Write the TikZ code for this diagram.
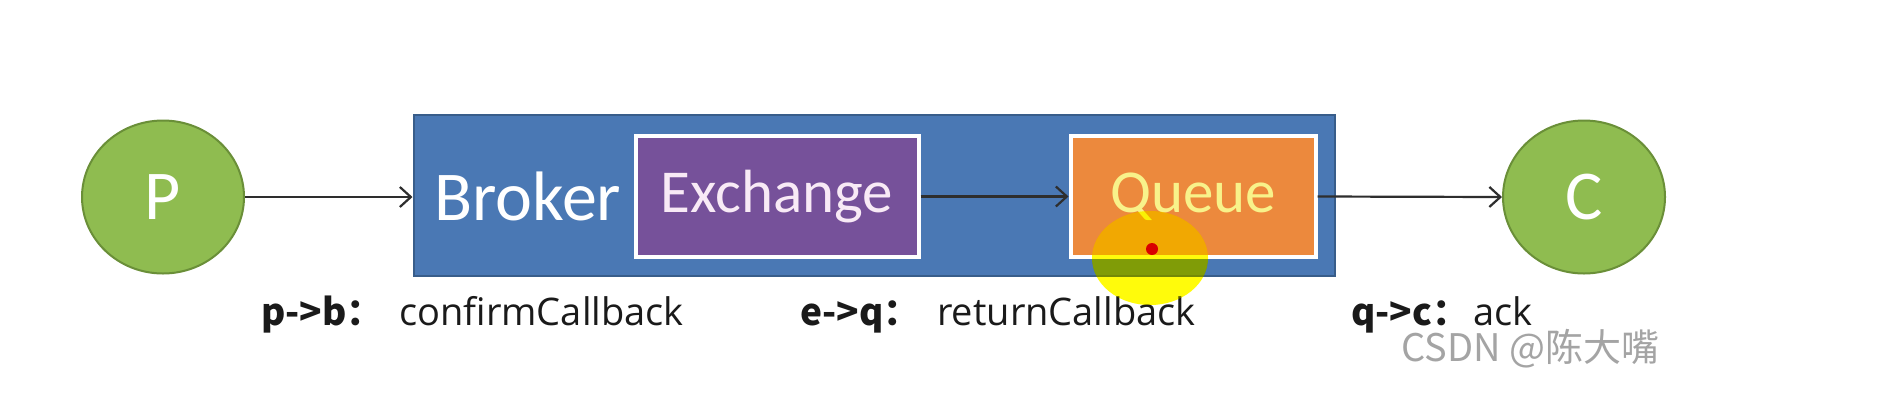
\documentclass[tikz,border=0pt]{standalone}
\usepackage{fontspec}
\setmainfont{Carlito}
\newfontfamily\cjk{Noto Sans CJK SC}
\newfontfamily\lab{Open Sans}
\usetikzlibrary{shapes.geometric,arrows.meta}
\definecolor{brokerblue}{HTML}{4A78B4}
\definecolor{brokeredge}{HTML}{385D8A}
\definecolor{greenfill}{HTML}{8FBC50}
\definecolor{greenedge}{HTML}{6A8F38}
\definecolor{purplefill}{HTML}{76519A}
\definecolor{orangefill}{HTML}{EC893D}
\definecolor{queuetext}{HTML}{F8F28A}
\definecolor{exchtext}{HTML}{F8EAF6}
\definecolor{arrowgray}{HTML}{2E2E2E}
\definecolor{labelgray}{HTML}{1A1A1A}
\definecolor{wmgray}{HTML}{A4A4A4}
\definecolor{spotyellow}{HTML}{FFFF10}
\begin{document}
\begin{tikzpicture}[x=1pt,y=-1pt,
  endpoint/.style={ellipse, fill=greenfill, draw=greenedge, line width=2pt,
    minimum width=162pt, minimum height=153pt, inner sep=0pt,
    text=white, font=\fontsize{70}{80}\selectfont},
  brokerbox/.style={rectangle, fill=brokerblue, draw=brokeredge, line width=2pt,
    minimum width=921pt, minimum height=161pt, inner sep=0pt},
  innerbox/.style={rectangle, draw=white, line width=4pt,
    minimum height=121pt, inner sep=0pt, font=\fontsize{61}{70}\selectfont},
  flow/.style={draw=arrowgray, line width=2.2pt,
    -{Straight Barb[length=11pt,width=20pt,line width=2.2pt]}},
  prefixlabel/.style={anchor=base west, inner sep=0pt, text=labelgray,
    font=\cjk\bfseries\fontsize{37}{44}\selectfont},
  cbtext/.style={anchor=base west, inner sep=0pt, text=labelgray,
    font=\lab\fontsize{38}{44}\selectfont}
]
\useasboundingbox (0,0) rectangle (1878,400);
\fill[white] (0,0) rectangle (1878,400);

\node[endpoint] (P) at (163,197) {P};
\node[brokerbox] (B) at (874,195) {};
\node[anchor=base west, inner sep=0pt, text=white,
      font=\fontsize{70}{80}\selectfont] (Btext) at (434,220) {Broker};
\node[innerbox, fill=purplefill, minimum width=283pt, text=exchtext] (E) at (777,196.5) {Exchange};
\node[innerbox, fill=orangefill, minimum width=245pt, text=queuetext] (Q) at (1193,196.5) {Queue};
\node[endpoint] (C) at (1584,197) {C};

\draw[flow] (P.east) -- (B.west |- P.east);
\draw[flow] (E.east) -- (Q.west);
\draw[flow] (Q.east) -- (C.west);

\node[prefixlabel] (l1a) at (261,325) {p->b：};
\node[cbtext] (l1b) at (399,325) {confirmCallback};
\node[prefixlabel] (l2a) at (800,325) {e->q：};
\node[cbtext] (l2b) at (937,325) {returnCallback};
\node[prefixlabel] (l3a) at (1351,325) {q->c：};
\node[cbtext] (l3b) at (1473,325) {ack};

\begin{scope}[blend mode=multiply]
  \fill[spotyellow] (1150,258) ellipse [x radius=58pt, y radius=47pt];
\end{scope}
\fill[yellow, opacity=0.3] (1150,258) ellipse [x radius=58pt, y radius=47pt];
\fill[red!85!black] (1152,249) circle [radius=6pt];

\node[anchor=base west, inner sep=0pt, text=wmgray,
      font=\cjk\fontsize{38}{44}\selectfont] (wm) at (1401,361) {CSDN @陈大嘴};
\end{tikzpicture}
\end{document}
